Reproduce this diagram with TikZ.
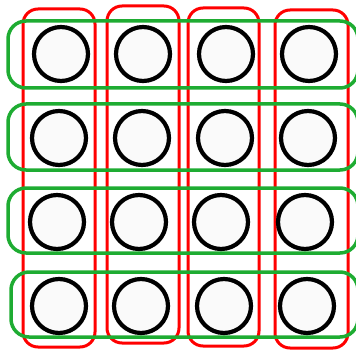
\documentclass[tikz,border=0pt]{standalone}
\definecolor{rowgreen}{RGB}{30,172,50}
\begin{document}
\begin{tikzpicture}[x=1pt, y=-1pt,
    cell/.style={circle, draw, line width=4.2pt, fill=black!2, minimum size=54pt, inner sep=0pt},
    colbox/.style={draw=red, line width=3pt, rounded corners=15pt},
    rowbox/.style={draw=rowgreen, line width=3.5pt, rounded corners=18pt}]

        \useasboundingbox (0, 0) rectangle (356, 350);

        % columns
        \draw[colbox] (23, 9) rectangle (95, 347);
        \draw[colbox] (107, 6) rectangle (179, 343);
        \draw[colbox] (188, 8) rectangle (259, 346);
        \draw[colbox] (275, 10) rectangle (348, 348);

        % rows
        \draw[rowbox] (8, 21) rectangle (358, 88);
        \draw[rowbox] (8, 104) rectangle (358, 170);
        \draw[rowbox] (8, 188) rectangle (358, 253);
        \draw[rowbox] (11, 272) rectangle (358, 337);

        \node (1-1) at (61, 54) [cell] {};
        \node (1-2) at (143, 54) [cell] {};
        \node (1-3) at (226, 54) [cell] {};
        \node (1-4) at (309, 54) [cell] {};

        \node (2-1) at (59, 138) [cell] {};
        \node (2-2) at (142, 138) [cell] {};
        \node (2-3) at (225, 138) [cell] {};
        \node (2-4) at (308, 138) [cell] {};

        \node (3-1) at (57, 222) [cell] {};
        \node (3-2) at (139, 222) [cell] {};
        \node (3-3) at (221, 222) [cell] {};
        \node (3-4) at (305, 222) [cell] {};

        \node (4-1) at (59, 306) [cell] {};
        \node (4-2) at (141, 306) [cell] {};
        \node (4-3) at (224, 306) [cell] {};
        \node (4-4) at (307, 306) [cell] {};

    \end{tikzpicture}
\end{document}
